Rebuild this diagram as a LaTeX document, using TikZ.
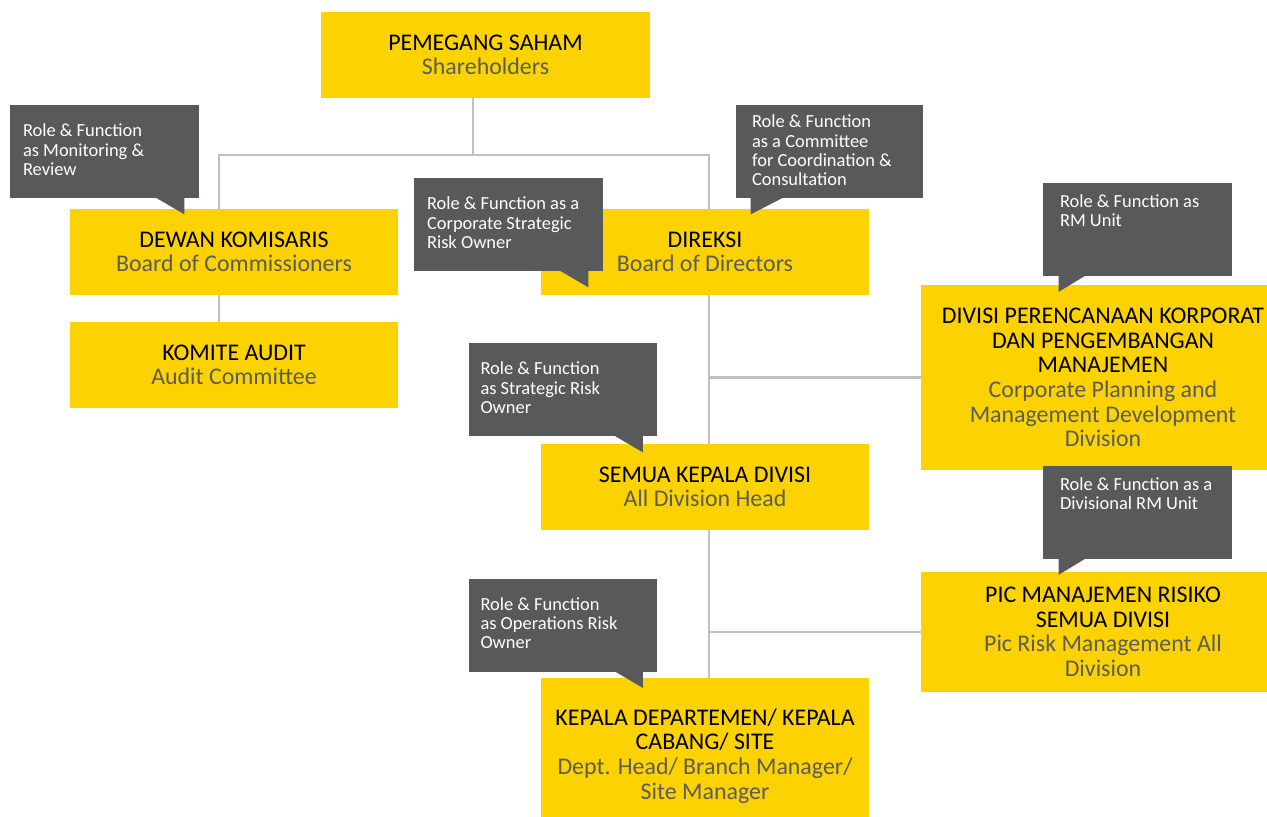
\documentclass[tikz,border=0pt]{standalone}
\usepackage{fontspec}
\setmainfont{Carlito}
\definecolor{rmyellow}{RGB}{252,210,0}
\definecolor{rmgray}{RGB}{88,89,91}
\definecolor{rmsub}{RGB}{92,92,92}
\definecolor{rmline}{RGB}{192,192,192}
\usetikzlibrary{calc,backgrounds}

\begin{document}
\begin{tikzpicture}[x=0.02cm, y=-0.02cm,
  orgbox/.style={fill=rmyellow, minimum width=6.56cm, minimum height=1.72cm, align=center, inner sep=0pt, font=\fontsize{13.6}{14}\selectfont},
  callbox/.style={fill=rmgray, minimum width=3.78cm, minimum height=1.86cm, inner sep=0pt},
  calltext/.style={anchor=north west, inner sep=0pt, align=left, text=white, font=\fontsize{10.5}{11}\selectfont},
  link/.style={draw=rmline, line width=1.4pt}]
  \useasboundingbox (0,0) rectangle (1267,816);
  % org boxes
  \node[orgbox, minimum width=6.58cm] (ps) at (485.5,55) {PEMEGANG SAHAM\\\textcolor{rmsub}{Shareholders}};
  \node[orgbox] (dk) at (234,252) {DEWAN KOMISARIS\\\textcolor{rmsub}{Board of Commissioners}};
  \node[orgbox] (ka) at (234,365) {KOMITE AUDIT\\\textcolor{rmsub}{Audit Committee}};
  \node[orgbox] (dir) at (705,252) {DIREKSI\\\textcolor{rmsub}{Board of Directors}};
  \node[orgbox, minimum width=7.28cm, minimum height=3.7cm] (dpk) at (1103,377.5) {DIVISI PERENCANAAN KORPORAT\\DAN PENGEMBANGAN\\MANAJEMEN\\\textcolor{rmsub}{Corporate Planning and}\\\textcolor{rmsub}{Management Development}\\\textcolor{rmsub}{Division}};
  \node[orgbox] (skd) at (705,487) {SEMUA KEPALA DIVISI\\\textcolor{rmsub}{All Division Head}};
  \node[orgbox, minimum width=7.28cm, minimum height=2.4cm] (pic) at (1103,632) {PIC MANAJEMEN RISIKO\\SEMUA DIVISI\\\textcolor{rmsub}{Pic Risk Management All}\\\textcolor{rmsub}{Division}};
  \node[orgbox, minimum height=3.12cm] (kd) at (705,756) {KEPALA DEPARTEMEN/ KEPALA\\CABANG/ SITE\\\textcolor{rmsub}{Dept. Head/ Branch Manager/}\\\textcolor{rmsub}{Site Manager}};
  % connectors
  \coordinate (busl) at (219,155);
  \coordinate (busm) at (473,155);
  \coordinate (busr) at (709,155);
  \begin{scope}[on background layer]
    \draw[link] (busm |- ps.south) -- (busm);
    \draw[link] (busl |- dk.north) -- (busl) -- (busr) -- (busr |- dir.north);
    \draw[link] (busl |- dk.south) -- (busl |- ka.north);
    \draw[link] (busr |- dir.south) -- (busr |- kd.north);
    \draw[link] (busr |- dpk.west) -- (dpk.west);
    \draw[link] (busr |- pic.west) -- (pic.west);
  \end{scope}
  % callouts
  \node[callbox] (cmon) at (104.5,151.5) {};
  \fill[rmgray] ([shift={(-15,-1)}]cmon.south east) -- ([shift={(-44,-1)}]cmon.south east) -- ([shift={(-15,16)}]cmon.south east) -- cycle;
  \node[calltext] at ([shift={(13,19)}]cmon.north west) {Role \& Function\\as Monitoring \&\\Review};
  \node[callbox] (ccorp) at (508.5,224.5) {};
  \fill[rmgray] ([shift={(-15,-1)}]ccorp.south east) -- ([shift={(-44,-1)}]ccorp.south east) -- ([shift={(-15,16)}]ccorp.south east) -- cycle;
  \node[calltext] at ([shift={(13,19)}]ccorp.north west) {Role \& Function as a\\Corporate Strategic\\Risk Owner};
  \node[callbox, minimum width=3.74cm] (ccom) at (829.5,151.5) {};
  \fill[rmgray] ([shift={(15,-1)}]ccom.south west) -- ([shift={(48,-1)}]ccom.south west) -- ([shift={(15,16)}]ccom.south west) -- cycle;
  \node[calltext] at ([shift={(16,10)}]ccom.north west) {Role \& Function\\as a Committee\\for Coordination \&\\Consultation};
  \node[callbox] (crm) at (1137.5,229) {};
  \fill[rmgray] ([shift={(16,-1)}]crm.south west) -- ([shift={(44,-1)}]crm.south west) -- ([shift={(16,16)}]crm.south west) -- cycle;
  \node[calltext] at ([shift={(17,12)}]crm.north west) {Role \& Function as\\RM Unit};
  \node[callbox] (cstr) at (563,389.5) {};
  \fill[rmgray] ([shift={(-15,-1)}]cstr.south east) -- ([shift={(-44,-1)}]cstr.south east) -- ([shift={(-15,16)}]cstr.south east) -- cycle;
  \node[calltext] at ([shift={(12,19)}]cstr.north west) {Role \& Function\\as Strategic Risk\\Owner};
  \node[callbox] (cdiv) at (1137.5,512) {};
  \fill[rmgray] ([shift={(16,-1)}]cdiv.south west) -- ([shift={(44,-1)}]cdiv.south west) -- ([shift={(16,16)}]cdiv.south west) -- cycle;
  \node[calltext] at ([shift={(17,12)}]cdiv.north west) {Role \& Function as a\\Divisional RM Unit};
  \node[callbox] (cops) at (563,625) {};
  \fill[rmgray] ([shift={(-15,-1)}]cops.south east) -- ([shift={(-44,-1)}]cops.south east) -- ([shift={(-15,16)}]cops.south east) -- cycle;
  \node[calltext] at ([shift={(12,19)}]cops.north west) {Role \& Function\\as Operations Risk\\Owner};
\end{tikzpicture}
\end{document}
